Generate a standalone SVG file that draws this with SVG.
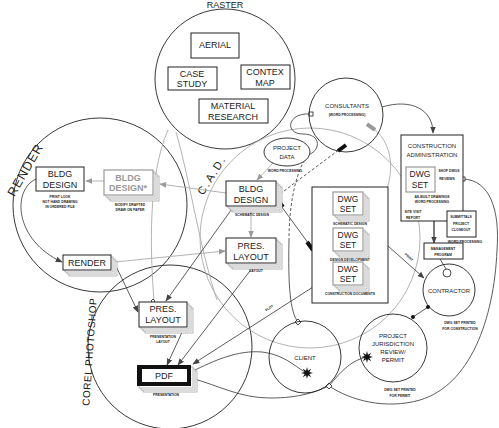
<svg xmlns="http://www.w3.org/2000/svg" width="499" height="428" viewBox="0 0 499 428">
<defs>
<style>
.bx{fill:#fff;stroke:#222;stroke-width:1}
.gbx{fill:#fff;stroke:#999;stroke-width:1.2}
.sk{fill:#fff;stroke:#999;stroke-width:.7}
.cir{fill:none;stroke:#222;stroke-width:.9}
.gcir{fill:none;stroke:#aaa;stroke-width:.9}
text{font-family:"Liberation Sans",Arial,sans-serif;text-anchor:middle;fill:#222}
.t9{font-size:9px}
.t8{font-size:8.5px}
.t6{font-size:6px}
.tiny{font-size:3.4px;font-weight:bold}
.c{fill:none;stroke:#333;stroke-width:.8}
.cd{fill:none;stroke:#333;stroke-width:.8;stroke-dasharray:3 2}
.g{fill:none;stroke:#aaa;stroke-width:.9}
.sq{fill:#fff;stroke:#222;stroke-width:.8}
</style>
<marker id="ab" viewBox="0 0 10 10" refX="9" refY="5" markerUnits="userSpaceOnUse" markerWidth="7" markerHeight="7" orient="auto"><path d="M0,1 L10,5 L0,9 z" fill="#444"/></marker>
<marker id="ag" viewBox="0 0 10 10" refX="9" refY="5" markerUnits="userSpaceOnUse" markerWidth="7" markerHeight="7" orient="auto"><path d="M0,1 L10,5 L0,9 z" fill="#999"/></marker>
<path id="star" d="M6,0 L2.31,0.96 L4.24,4.24 L0.96,2.31 L0,6 L-0.96,2.31 L-4.24,4.24 L-2.31,0.96 L-6,0 L-2.31,-0.96 L-4.24,-4.24 L-0.96,-2.31 L0,-6 L0.96,-2.31 L4.24,-4.24 L2.31,-0.96 Z" fill="#111"/>
<rect id="stamp" x="-5" y="-2" width="10" height="4" fill="#111"/>
<rect id="gstamp" x="-5" y="-2" width="10" height="4" fill="#999"/>
</defs>
<rect width="499" height="428" fill="#fff"/>

<!-- container circles -->
<g id="raster">
<circle class="cir" cx="225" cy="79" r="70"/>
<text class="t9" x="225" y="8">RASTER</text>
</g>
<g id="render-area">
<circle class="cir" cx="100" cy="205" r="87"/>
<text x="29" y="172" font-size="12.5" transform="rotate(-60 29 172)" letter-spacing="1">RENDER</text>
</g>
<g id="corel-photoshop">
<circle class="cir" cx="170" cy="347" r="82"/>
<text x="93" y="352" font-size="10" transform="rotate(-86 93 352)" letter-spacing="0.5">COREL PHOTOSHOP</text>
</g>
<g id="cad">
<circle class="gcir" cx="310" cy="238" r="110"/>
<text x="215" y="177" font-size="11" transform="rotate(-58 215 177)" letter-spacing="2">C.A.D.</text>
</g>

<!-- connectors -->
<g id="connectors">
<line class="g" x1="104" y1="181" x2="86" y2="181" marker-end="url(#ag)"/>
<line class="g" x1="226" y1="193" x2="160" y2="184" marker-end="url(#ag)"/>
<path class="c" d="M36,179 C12,190 14,240 62,262" marker-end="url(#ab)"/>
<line class="c" x1="113" y1="260" x2="138" y2="312" marker-end="url(#ab)"/>
<line class="g" x1="115" y1="262" x2="225" y2="251" marker-end="url(#ag)"/>
<line class="g" x1="251" y1="206" x2="251" y2="237" marker-end="url(#ag)"/>
<line class="g" x1="273" y1="163" x2="257" y2="180" marker-end="url(#ag)"/>
<path class="g" d="M168,130 C148,175 150,250 154,301"/>
<path class="g" d="M176,132 C190,180 200,250 217,300"/>
<line class="c" x1="276" y1="199" x2="314" y2="251"/>
<use href="#stamp" transform="translate(280 203) rotate(54)"/>
<use href="#stamp" transform="translate(310 246) rotate(54)"/>
<line class="cd" x1="276" y1="197" x2="344" y2="146"/>
<use href="#stamp" transform="translate(342 148) rotate(-37)"/>
<path class="c" d="M311,114 C287,112 284,134 303,134 C322,134 321,152 307,155"/>
<path class="cd" d="M307,156 C294,175 289,210 289,240"/>
<path class="c" d="M289,240 C288,285 290,312 298,322"/>
<path class="c" d="M382,107 C412,98 433,110 433,133" marker-end="url(#ab)"/>
<path class="g" d="M370,126 C392,140 396,170 384,196"/>
<use href="#gstamp" transform="translate(371 127) rotate(35)"/>
<use href="#gstamp" transform="translate(384 195) rotate(-60)"/>
<line class="c" x1="313" y1="287" x2="193" y2="364" marker-end="url(#ab)"/>
<text class="tiny" x="270" y="309" transform="rotate(-33 270 309)">PLOT</text>
<line class="c" x1="256" y1="263" x2="178" y2="365" marker-end="url(#ab)"/>
<line class="c" x1="184" y1="328" x2="167" y2="365" marker-end="url(#ab)"/>
<line class="c" x1="234" y1="206" x2="166" y2="301" marker-end="url(#ab)"/>
<path class="c" d="M191,372 C215,360 238,350 262,352 C286,355 296,368 307,373"/>
<path class="c" d="M191,378 C220,386 240,398 270,398 C300,398 315,392 329,386"/>
<path class="c" d="M329,386 C342,370 352,360 367,357"/>
<path class="c" d="M463,179 C490,180 500,210 497,250 C494,320 470,385 420,400 C385,410 350,400 329,386"/>
<line class="c" x1="413" y1="317" x2="428" y2="307"/>
<circle cx="413" cy="317" r="2" fill="#111"/>
<circle cx="428" cy="307" r="2" fill="#111"/>
<line class="c" x1="440" y1="259" x2="446" y2="269"/>
<line class="c" x1="388" y1="246" x2="424" y2="278" marker-end="url(#ab)"/>
<text class="tiny" x="408" y="258" transform="rotate(42 408 258)">PRINT</text>
<line x1="434" y1="221" x2="434" y2="243" stroke="#222" stroke-width="1.2" marker-end="url(#ab)"/>
<rect class="sq" x="309" y="112" width="4" height="4"/>
<rect class="sq" x="304" y="153" width="4" height="4"/>
<rect class="sq" x="461" y="177" width="4" height="4"/>
<path class="sq" d="M298,319 L301,322 L298,325 L295,322 Z"/>
<path class="sq" d="M329,383 L332,386 L329,389 L326,386 Z"/>
<path class="sq" d="M153,299 L155,301 L153,303 L151,301 Z"/>
<use href="#star" transform="translate(307 373)"/>
<use href="#star" transform="translate(367 357)"/>
</g>

<!-- RASTER items -->
<g id="aerial"><rect class="bx" x="191" y="33" width="48" height="25"/><text class="t9" x="215" y="48">AERIAL</text></g>
<g id="case-study"><rect class="bx" x="168" y="67" width="49" height="23"/><text class="t9" x="192" y="77">CASE</text><text class="t9" x="192" y="87">STUDY</text></g>
<g id="contex-map"><rect class="bx" x="241" y="65" width="49" height="24"/><text class="t9" x="265" y="75">CONTEX</text><text class="t9" x="265" y="86">MAP</text></g>
<g id="material-research"><rect class="bx" x="199" y="99" width="69" height="24"/><text class="t9" x="233" y="109">MATERIAL</text><text class="t9" x="233" y="120">RESEARCH</text></g>

<!-- RENDER items -->
<g id="render-bldg-design"><rect class="bx" x="36" y="167" width="48" height="24"/><text class="t9" x="60" y="177">BLDG</text><text class="t9" x="60" y="188">DESIGN</text>
<text class="tiny" x="60" y="198">PRINT LOOK</text><text class="tiny" x="60" y="203">NOT HAND DRAWING</text><text class="tiny" x="60" y="208">IN ORDERED FILE</text></g>
<g id="bldg-design-star">
<rect class="sk" x="110" y="176" width="49" height="25"/><rect class="sk" x="108" y="174" width="49" height="25"/><rect class="sk" x="106" y="172" width="49" height="25"/>
<rect class="gbx" x="104" y="170" width="49" height="25"/>
<text class="t9" x="128" y="181" style="fill:#999;font-weight:bold">BLDG</text><text class="t9" x="128" y="191" style="fill:#999;font-weight:bold">DESIGN*</text>
<text class="tiny" x="130" y="206">MODIFY DRAFTED</text><text class="tiny" x="130" y="211">DRAW ON PAPER</text></g>
<g id="render-box">
<rect class="sk" x="69" y="261" width="48" height="15"/><rect class="sk" x="67" y="259" width="48" height="15"/><rect class="sk" x="65" y="257" width="48" height="15"/>
<rect class="bx" x="63" y="255" width="48" height="15"/><text class="t9" x="87" y="266">RENDER</text></g>

<!-- COREL items -->
<g id="pres-layout-corel">
<rect class="sk" x="145" y="308" width="48" height="25"/><rect class="sk" x="143" y="306" width="48" height="25"/><rect class="sk" x="141" y="304" width="48" height="25"/>
<rect class="bx" x="139" y="302" width="48" height="25"/><text class="t9" x="163" y="312">PRES.</text><text class="t9" x="163" y="323">LAYOUT</text>
<text class="tiny" x="163" y="338">PRESENTATION</text><text class="tiny" x="163" y="343">LAYOUT</text></g>
<g id="pdf">
<rect class="sk" x="143" y="371" width="54" height="21"/><rect class="sk" x="141" y="369" width="54" height="21"/><rect class="sk" x="139" y="367" width="54" height="21"/>
<rect x="137" y="365" width="54" height="21" fill="#111"/><rect x="142" y="369" width="45" height="13" fill="#fff"/>
<text class="t9" x="164" y="379">PDF</text><text class="tiny" x="166" y="396">PRESENTATION</text></g>

<!-- CAD items -->
<g id="cad-bldg-design">
<rect class="sk" x="232" y="187" width="50" height="25"/><rect class="sk" x="230" y="185" width="50" height="25"/><rect class="sk" x="228" y="183" width="50" height="25"/>
<rect class="bx" x="226" y="181" width="50" height="25"/><text class="t9" x="251" y="192">BLDG</text><text class="t9" x="251" y="203">DESIGN</text>
<text class="tiny" x="252" y="216">SCHEMATIC DESIGN</text></g>
<g id="cad-pres-layout">
<rect class="sk" x="232" y="244" width="50" height="25"/><rect class="sk" x="230" y="242" width="50" height="25"/><rect class="sk" x="228" y="240" width="50" height="25"/>
<rect class="bx" x="226" y="238" width="50" height="25"/><text class="t9" x="251" y="249">PRES.</text><text class="t9" x="251" y="260">LAYOUT</text>
<text class="tiny" x="256" y="272">LAYOUT</text></g>
<g id="project-data"><ellipse cx="287" cy="152" rx="23" ry="14" fill="#fff" stroke="#222" stroke-width=".9"/>
<text class="t6" x="287" y="150">PROJECT</text><text class="t6" x="287" y="159">DATA</text><text class="tiny" x="285" y="172">WORD PROCESSING</text></g>
<g id="consultants"><circle class="cir" cx="346" cy="115" r="37"/><text class="t6" x="347" y="108">CONSULTANTS</text><text class="tiny" x="347" y="116">(WORD PROCESSING)</text></g>

<g id="dwg-sets">
<rect class="bx" x="312" y="187" width="76" height="116"/>
<g id="dwg-set-1">
<rect class="sk" x="339" y="198" width="30" height="23"/><rect class="sk" x="337" y="196" width="30" height="23"/><rect class="sk" x="335" y="194" width="30" height="23"/>
<rect class="gbx" x="333" y="192" width="30" height="23"/><text class="t8" x="348" y="202">DWG</text><text class="t8" x="348" y="212">SET</text>
<text class="tiny" x="350" y="225">SCHEMATIC DESIGN</text></g>
<g id="dwg-set-2">
<rect class="sk" x="339" y="234" width="30" height="23"/><rect class="sk" x="337" y="232" width="30" height="23"/><rect class="sk" x="335" y="230" width="30" height="23"/>
<rect class="gbx" x="333" y="228" width="30" height="23"/><text class="t8" x="348" y="238">DWG</text><text class="t8" x="348" y="248">SET</text>
<text class="tiny" x="350" y="261">DESIGN DEVELOPMENT</text></g>
<g id="dwg-set-3">
<rect class="sk" x="339" y="268" width="30" height="23"/><rect class="sk" x="337" y="266" width="30" height="23"/><rect class="sk" x="335" y="264" width="30" height="23"/>
<rect class="gbx" x="333" y="262" width="30" height="23"/><text class="t8" x="348" y="272">DWG</text><text class="t8" x="348" y="282">SET</text>
<text class="tiny" x="350" y="295">CONSTRUCTION DOCUMENTS</text></g>
</g>

<g id="construction-administration">
<rect class="bx" x="401" y="135" width="62" height="86"/>
<text class="t6" x="432" y="148">CONSTRUCTION</text><text class="t6" x="432" y="157">ADMINISTRATION</text>
<rect class="gbx" x="406" y="167" width="29" height="25"/><text class="t8" x="420" y="177">DWG</text><text class="t8" x="420" y="188">SET</text>
<text class="tiny" x="449" y="172">SHOP DWGS</text><text class="tiny" x="447" y="180">REVIEWS</text>
<text class="tiny" x="432" y="198">AS-BUILT DRAWINGS</text><text class="tiny" x="432" y="203">WORD PROCESSING</text>
<text class="tiny" x="413" y="213">SITE VISIT</text><text class="tiny" x="413" y="219">REPORT</text>
</g>
<g id="closeout"><rect class="bx" x="447" y="211" width="29" height="26"/>
<text class="tiny" x="461" y="218">SUBMITTALS</text><text class="tiny" x="461" y="225">PROJECT</text><text class="tiny" x="461" y="231">CLOSEOUT</text>
<text class="tiny" x="465" y="243">WORD PROCESSING</text></g>
<g id="management-program"><rect class="bx" x="424" y="243" width="39" height="16"/>
<text class="tiny" x="443" y="250">MANAGEMENT</text><text class="tiny" x="443" y="256">PROGRAM</text></g>

<g id="contractor"><circle class="cir" cx="449" cy="290" r="26"/><circle class="sq" cx="447" cy="273" r="4"/>
<text class="t6" x="449" y="293">CONTRACTOR</text>
<text class="tiny" x="460" y="324">DWG SET PRINTED</text><text class="tiny" x="460" y="330">FOR CONSTRUCTION</text></g>
<g id="jurisdiction"><circle class="cir" cx="393" cy="348" r="34"/>
<text class="t6" x="393" y="338">PROJECT</text><text class="t6" x="393" y="346">JURISDICTION</text><text class="t6" x="393" y="354">REVIEW/</text><text class="t6" x="393" y="362">PERMIT</text>
<text class="tiny" x="400" y="391">DWG SET PRINTED</text><text class="tiny" x="400" y="397">FOR PERMIT</text></g>
<g id="client"><circle class="cir" cx="305" cy="357" r="36"/><text class="t6" x="305" y="360">CLIENT</text></g>
</svg>
